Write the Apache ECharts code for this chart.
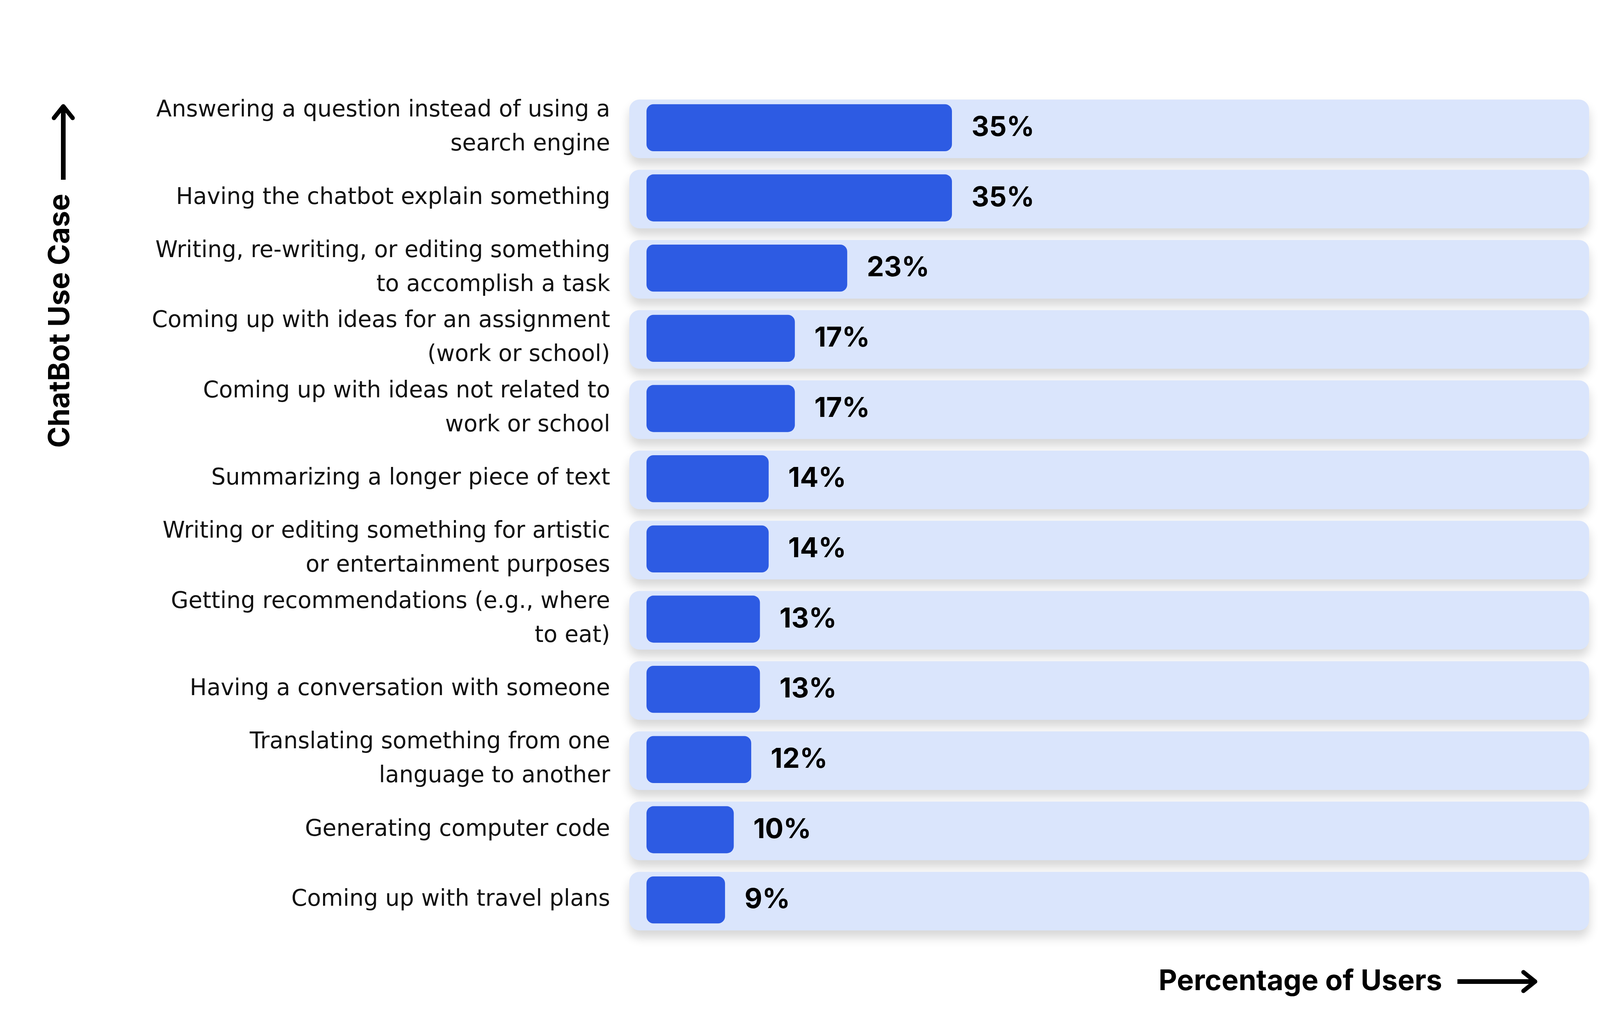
<!DOCTYPE html>
<html>
<head>
<meta charset="utf-8">
<script src="https://cdn.jsdelivr.net/npm/echarts@6/dist/echarts.min.js"></script>
<style>
  html, body { margin: 0; padding: 0; background: #fff; }
  #chart { width: 4275px; height: 2613px; }
</style>
</head>
<body>
<div id="chart"></div>
<script>
// use cases, top to bottom
const useCases = [
  'Answering a question instead of using a\nsearch engine',
  'Having the chatbot explain something',
  'Writing, re-writing, or editing something\nto accomplish a task',
  'Coming up with ideas for an assignment\n(work or school)',
  'Coming up with ideas not related to\nwork or school',
  'Summarizing a longer piece of text',
  'Writing or editing something for artistic\nor entertainment purposes',
  'Getting recommendations (e.g., where\nto eat)',
  'Having a conversation with someone',
  'Translating something from one\nlanguage to another',
  'Generating computer code',
  'Coming up with travel plans'
];
// percentage of users
const shares = [35, 35, 23, 17, 17, 14, 14, 13, 13, 12, 10, 9];

const yTitle = 'ChatBot Use Case';
const xTitle = 'Percentage of Users';

const AXIS_MAX = 108;
const FONT = 'Inter, "Open Sans", sans-serif';
const LABEL_FONT = '"DejaVu Sans", Inter, sans-serif';

const chart = echarts.init(document.getElementById('chart'));

const option = {
  backgroundColor: '#ffffff',
  animation: false,
  grid: { left: 1655, top: 237, width: 2413, height: 2156 },
  xAxis: {
    type: 'value',
    min: 0,
    max: AXIS_MAX,
    show: false
  },
  yAxis: {
    type: 'category',
    inverse: true,
    data: useCases,
    axisLine: { show: false },
    axisTick: { show: false },
    axisLabel: {
      margin: 93,
      fontSize: 58,
      lineHeight: 87,
      color: '#111111',
      fontFamily: LABEL_FONT
    }
  },
  series: [
    {
      // light row panels behind each bar
      type: 'custom',
      silent: true,
      z: 1,
      data: shares.map((v, i) => [AXIS_MAX, i]),
      renderItem: function (params, api) {
        const idx = api.value(1);
        const start = api.coord([0, idx]);
        const end = api.coord([api.value(0), idx]);
        const band = api.size([0, 1])[1];
        const h = band * 0.835;
        return {
          type: 'rect',
          shape: { x: start[0] - 44, y: start[1] - h / 2 + 3, width: end[0] - start[0] + 44, height: h, r: 26 },
          style: {
            fill: '#dae5fc',
            shadowColor: 'rgba(0,0,0,0.16)',
            shadowBlur: 26,
            shadowOffsetY: 18
          }
        };
      }
    },
    {
      type: 'bar',
      z: 3,
      data: shares,
      barWidth: '67%',
      itemStyle: { color: '#2d5be3', borderRadius: 18 },
      label: {
        show: true,
        position: 'right',
        distance: 50,
        formatter: '{c}%',
        fontSize: 70,
        fontWeight: 'bold',
        color: '#000000',
        fontFamily: FONT
      }
    }
  ],
  graphic: [
    {
      type: 'text',
      x: 155,
      y: 821,
      rotation: Math.PI / 2,
      style: {
        text: yTitle,
        fontSize: 74,
        fontWeight: 'bold',
        fontFamily: FONT,
        fill: '#000',
        align: 'center',
        verticalAlign: 'middle'
      }
    },
    {
      type: 'line',
      shape: { x1: 162, y1: 460, x2: 162, y2: 274 },
      style: { stroke: '#000', lineWidth: 12, lineCap: 'butt' }
    },
    {
      type: 'polyline',
      shape: { points: [[138, 302], [162, 272], [186, 302]] },
      style: { stroke: '#000', lineWidth: 11, lineCap: 'round', lineJoin: 'round', fill: null }
    },
    {
      type: 'text',
      x: 3692,
      y: 2512,
      style: {
        text: xTitle,
        fontSize: 73,
        fontWeight: 'bold',
        fontFamily: FONT,
        fill: '#000',
        align: 'right',
        verticalAlign: 'middle'
      }
    },
    {
      type: 'line',
      shape: { x1: 3731, y1: 2512, x2: 3928, y2: 2512 },
      style: { stroke: '#000', lineWidth: 12, lineCap: 'butt' }
    },
    {
      type: 'polyline',
      shape: { points: [[3900, 2488], [3930, 2512], [3900, 2536]] },
      style: { stroke: '#000', lineWidth: 11, lineCap: 'round', lineJoin: 'round', fill: null }
    }
  ]
};

chart.setOption(option);
</script>
</body>
</html>
